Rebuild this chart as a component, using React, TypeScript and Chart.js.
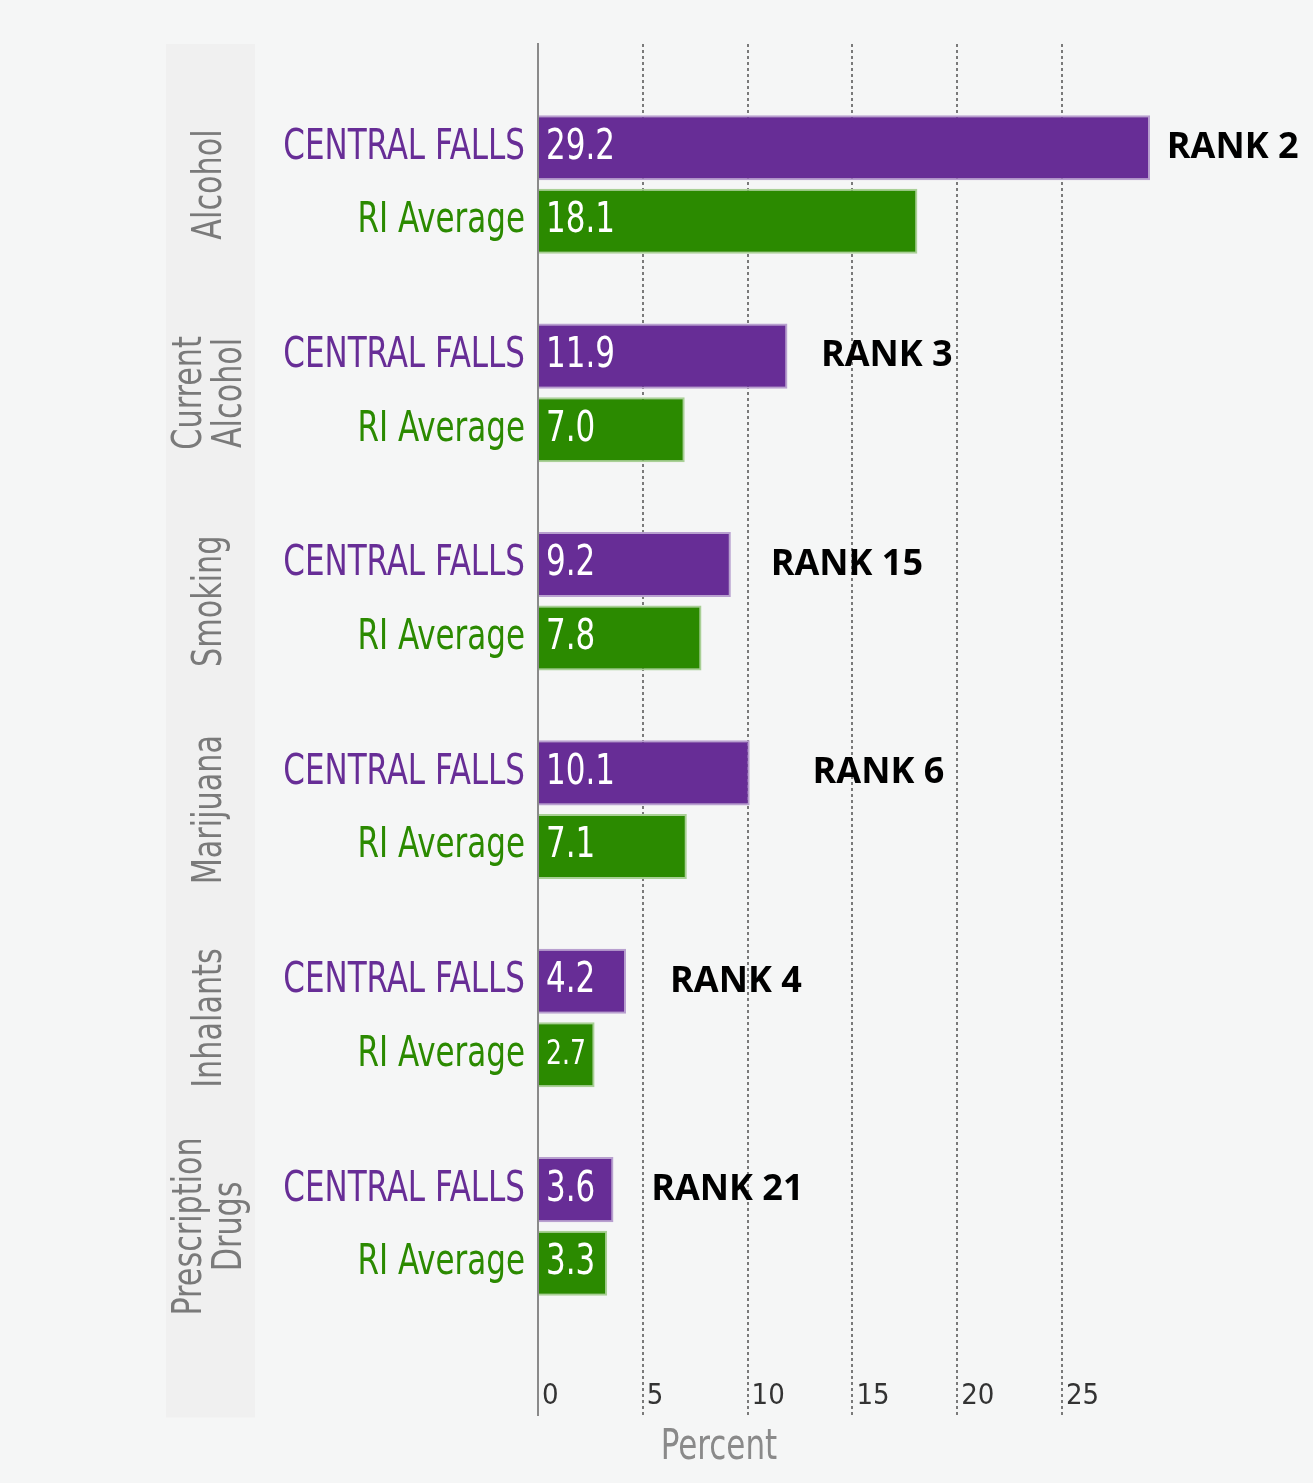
import React, { useEffect, useRef } from "react";
import { Chart, registerables } from "chart.js";

Chart.register(...registerables);

// ---- data ----
const groups: (string | string[])[] = [
  "Alcohol",
  ["Current", "Alcohol"],
  "Smoking",
  "Marijuana",
  "Inhalants",
  ["Prescription", "Drugs"],
];
const seriesNames = ["CENTRAL FALLS", "RI Average"];
const centralFalls = [29.2, 11.9, 9.2, 10.1, 4.2, 3.6];
const riAverage = [18.1, 7.0, 7.8, 7.1, 2.7, 3.3];
const ranks = ["RANK 2", "RANK 3", "RANK 15", "RANK 6", "RANK 4", "RANK 21"];
const rankAt = [30.0, 13.5, 11.1, 13.1, 6.3, 5.4];
const xTicks = [0, 5, 10, 15, 20, 25];
const axisTitle = "Percent";

// ---- styles ----
const PURPLE = "#672d96";
const GREEN = "#2b8a00";
const seriesColors = [PURPLE, GREEN];
const seriesBorders = ["#b8a0cf", "#a9d096"];
const NARROW = "'Liberation Sans Narrow', 'DejaVu Sans Condensed', 'Roboto Condensed', sans-serif";
const BOLD = "'Open Sans', 'Liberation Sans', sans-serif";
const SQUEEZE = 0.82;
const W = 1313;
const H = 1483;

function narrowText(ctx: CanvasRenderingContext2D, txt: string, x: number, y: number) {
  const w = ctx.measureText(txt).width;
  ctx.fillText(txt, x, y, w * SQUEEZE);
}

const overlay = {
  id: "overlay",
  beforeDraw(chart: any) {
    const { ctx, chartArea } = chart;
    ctx.save();
    ctx.fillStyle = "#f5f6f6";
    ctx.fillRect(0, 0, chart.width, chart.height);
    ctx.fillStyle = "#f0f0f0";
    ctx.fillRect(166, chartArea.top, 89, chartArea.bottom - chartArea.top + 2);
    ctx.restore();
  },
  afterDatasetsDraw(chart: any) {
    const { ctx, chartArea, scales } = chart;
    const xs = scales.x;
    const ys = scales.y;
    ctx.save();
    // group labels (rotated)
    ctx.fillStyle = "#7a7a7a";
    ctx.font = `41px ${NARROW}`;
    ctx.textAlign = "center";
    ctx.textBaseline = "middle";
    groups.forEach((g, i) => {
      const lines = Array.isArray(g) ? g : [g];
      const cy = ys.getPixelForValue(i);
      ctx.save();
      ctx.translate(210, cy);
      ctx.rotate(-Math.PI / 2);
      lines.forEach((ln, k) => {
        narrowText(ctx, ln, 0, (k - (lines.length - 1) / 2) * 40);
      });
      ctx.restore();
    });
    // series names + values
    [0, 1].forEach((d) => {
      const meta = chart.getDatasetMeta(d);
      meta.data.forEach((el: any, i: number) => {
        ctx.textBaseline = "middle";
        ctx.textAlign = "right";
        ctx.fillStyle = seriesColors[d];
        ctx.font = `42px ${NARROW}`;
        narrowText(ctx, seriesNames[d], chartArea.left - 13, el.y);
        const v = (d === 0 ? centralFalls : riAverage)[i];
        const txt = v.toFixed(1);
        const barW = el.x - chartArea.left;
        let size = 42;
        ctx.font = `${size}px ${NARROW}`;
        const tw = ctx.measureText(txt).width * SQUEEZE;
        if (tw > barW - 16) size = Math.floor((size * (barW - 16)) / tw);
        ctx.font = `${size}px ${NARROW}`;
        ctx.textAlign = "left";
        ctx.fillStyle = "#ffffff";
        narrowText(ctx, txt, chartArea.left + 8, el.y);
      });
    });
    // ranks
    const meta0 = chart.getDatasetMeta(0);
    ctx.fillStyle = "#000000";
    ctx.font = `bold 36px ${BOLD}`;
    ctx.textAlign = "left";
    ctx.textBaseline = "middle";
    ranks.forEach((r, i) => {
      const el = meta0.data[i];
      ctx.fillText(r, xs.getPixelForValue(rankAt[i]), el.y);
    });
    // axis title
    ctx.fillStyle = "#8a8a8a";
    ctx.font = `42px ${NARROW}`;
    ctx.textAlign = "center";
    narrowText(ctx, axisTitle, chartArea.left + 181, 1448);
    ctx.restore();
  },
};

export default function App() {
  const ref = useRef<HTMLCanvasElement | null>(null);
  useEffect(() => {
    if (!ref.current) return;
    const chart = new Chart(ref.current, {
      type: "bar",
      data: {
        datasets: [
          {
            label: seriesNames[0],
            data: centralFalls.map((v, i) => ({ x: v, y: i })),
            backgroundColor: seriesColors[0],
            borderColor: seriesBorders[0],
            borderWidth: 2,
          },
          {
            label: seriesNames[1],
            data: riAverage.map((v, i) => ({ x: v, y: i })),
            backgroundColor: seriesColors[1],
            borderColor: seriesBorders[1],
            borderWidth: 2,
          },
        ],
      },
      options: {
        indexAxis: "y",
        responsive: false,
        animation: false,
        devicePixelRatio: 1,
        categoryPercentage: 0.706,
        barPercentage: 0.885,
        layout: { padding: { left: 530, right: 20.4, top: 44, bottom: 67.6 } },
        plugins: { legend: { display: false }, tooltip: { enabled: false } },
        scales: {
          x: {
            type: "linear",
            position: "bottom",
            min: 0,
            max: 36,
            afterBuildTicks: (s: any) => {
              s.ticks = xTicks.map((v) => ({ value: v }));
            },
            grid: {
              color: (c: any) => (c.tick && c.tick.value === 0 ? "rgba(0,0,0,0)" : "#7a7a7a"),
              lineWidth: 2,
              drawTicks: false,
            },
            border: { display: false, dash: [3, 3] },
            ticks: {
              font: { family: NARROW, size: 29 },
              color: "#333333",
              align: "start",
              padding: -36,
              labelOffset: 4,
              maxRotation: 0,
              autoSkip: false,
            },
          },
          y: {
            type: "linear",
            reverse: true,
            offset: false,
            min: -0.6745,
            max: 5.907,
            afterBuildTicks: (s: any) => {
              s.ticks = groups.map((_, i) => ({ value: i }));
            },
            ticks: { display: false },
            grid: { display: false, offset: false },
            border: { display: true, color: "#8a8a8a", width: 2 },
          },
        },
      } as any,
      plugins: [overlay],
    });
    return () => chart.destroy();
  }, []);
  return (
    <div style={{ position: "absolute", left: 0, top: 0, width: W, height: H }}>
      <canvas ref={ref} width={W} height={H} style={{ display: "block" }} />
    </div>
  );
}
